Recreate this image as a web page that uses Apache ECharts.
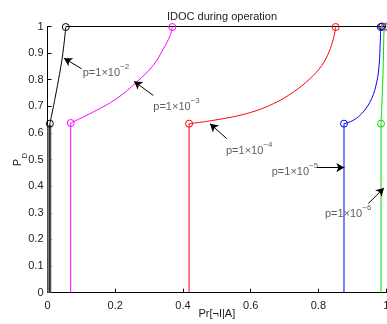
<!DOCTYPE html>
<html><head><meta charset="utf-8">
<script src="https://cdn.jsdelivr.net/npm/echarts@6/dist/echarts.min.js"></script>
<style>html,body{margin:0;padding:0;background:#fff}#c{width:387px;height:324px}</style>
</head><body><div id="c"></div>
<script>
// Curves: points (Pr[¬I|A], P_D) for each p
const labels = ['p=1×10^-2','p=1×10^-3','p=1×10^-4','p=1×10^-5','p=1×10^-6'];
const colors = ['#000000','#ff00ff','#ff0000','#0000ff','#00dd00'];
const curveBlack = [[0.007,0],[0.007,0.635],[0.022,0.729],[0.040,0.854],[0.047,0.916],[0.054,0.998]];
const curveMagenta = [[0.0685,0],[0.0685,0.6375],[0.135,0.679],[0.204,0.729],[0.263,0.791],[0.312,0.854],[0.342,0.916],[0.362,0.966],[0.3685,0.998]];
const curveRed = [[0.418,0],[0.418,0.635],[0.4896,0.6475],[0.588,0.673],[0.667,0.710],[0.726,0.754],[0.775,0.804],[0.810,0.854],[0.831,0.904],[0.844,0.954],[0.851,0.998]];
const curveBlue = [[0.8754,0],[0.8754,0.635],[0.903,0.6475],[0.932,0.679],[0.957,0.729],[0.972,0.791],[0.979,0.854],[0.9817,0.916],[0.9838,0.998]];
const curveGreen = [[0.9847,0],[0.9847,0.635],[0.990,0.80],[0.9935,0.98],[0.995,0.998]];
const topLine = [[0.054,1],[1,1]];
const greyBand = [[0.0055,0],[0.0055,0.63]];
const extraTopCircles = [[0.988,1,'#000000'],[0.999,1,'#ff00ff']];
// annotation arrows: [tailX, tailY, tipX, tipY]
const arrows = [
  [0.101,0.841,0.0487,0.881],
  [0.3124,0.741,0.2554,0.794],
  [0.529,0.579,0.4798,0.635],
  [0.7948,0.470,0.8763,0.470],
  [0.947,0.335,0.9935,0.3937]
];
// annotation text anchors (left, middle)
const textPos = [[0.104,0.835],[0.3124,0.7064],[0.527,0.5414],[0.662,0.4627],[0.819,0.3037]];
const xTicks = [0,0.2,0.4,0.6,0.8,1];
const yTicks = [0,0.1,0.2,0.3,0.4,0.5,0.6,0.7,0.8,0.9,1];

const curves = [curveBlack, curveMagenta, curveRed, curveBlue, curveGreen];
const FONT = 'Liberation Sans, Arial, sans-serif';
const chart = echarts.init(document.getElementById('c'), null, {renderer:'canvas'});
const series = [];
series.push({type:'line', data:greyBand, symbol:'none', lineStyle:{color:'#808080', width:4}, z:1, animation:false});
curves.forEach((c,i)=>{
  // vertical drop segment
  series.push({type:'line', data:c.slice(0,2), symbol:'none', lineStyle:{color:colors[i], width:1}, animation:false, z:2});
  // rising curve
  series.push({type:'line', data:c.slice(1), symbol:'none', smooth:0.4, lineStyle:{color:colors[i], width:1}, animation:false, z:2});
});
series.push({type:'line', data:topLine, symbol:'none', lineStyle:{color:'#000', width:1}, animation:false, z:3});
curves.forEach((c,i)=>{
  series.push({type:'scatter', data:[c[1], c[c.length-1]], symbol:'circle', symbolSize:7,
    itemStyle:{color:'rgba(255,255,255,0)', borderColor:colors[i], borderWidth:1, opacity:1}, animation:false, z:4});
});
extraTopCircles.forEach(p=>{
  series.push({type:'scatter', data:[[p[0],p[1]]], symbol:'circle', symbolSize:7,
    itemStyle:{color:'rgba(255,255,255,0)', borderColor:p[2], borderWidth:1, opacity:1}, animation:false, z:4});
});
// arrows
series.push({type:'line', data:[], animation:false,
  markLine:{silent:true, symbol:['none','arrow'], symbolSize:[7,8], animation:false,
    lineStyle:{color:'#000', width:1, type:'solid'}, label:{show:false},
    data: arrows.map(a=>[{coord:[a[0],a[1]]},{coord:[a[2],a[3]]}])}});
// labels
series.push({type:'scatter', symbolSize:0, animation:false, z:5,
  data: textPos.map((p,i)=>({value:p, name:labels[i]})),
  label:{show:true, position:'right', distance:0,
    formatter: d=>{ const parts=d.name.split('^'); return '{a|'+parts[0]+'}{s|'+parts[1].replace('-','−')+'}'; },
    rich:{a:{fontFamily:FONT, fontSize:11, color:'#333', lineHeight:16, verticalAlign:'bottom'},
          s:{fontFamily:FONT, fontSize:8, color:'#333', lineHeight:16, verticalAlign:'top'}}}});

chart.setOption({
  animation:false,
  title:{text:'IDOC during operation', left:217, textAlign:'center', top:6,
    textStyle:{fontFamily:FONT, fontSize:11, fontWeight:'normal', color:'#222'}},
  grid:{left:47.5, right:0.8, top:26.5, bottom:31.3, containLabel:false, outerBoundsMode:'none'},
  xAxis:{type:'value', min:0, max:1, interval:0.2,
    axisLine:{lineStyle:{color:'#000', width:1}}, axisTick:{inside:true, length:4, lineStyle:{color:'#000'}},
    splitLine:{show:false},
    axisLabel:{fontFamily:FONT, fontSize:11, color:'#222', margin:8, formatter:v=>String(+v.toFixed(1))},
    name:'Pr[¬I|A]', nameLocation:'middle', nameGap:16, nameMoveOverlap:false,
    nameTextStyle:{fontFamily:FONT, fontSize:11, color:'#222'}},
  yAxis:{type:'value', min:0, max:1, interval:0.1,
    axisLine:{show:true, lineStyle:{color:'#000', width:1}}, axisTick:{show:true, inside:true, length:4, lineStyle:{color:'#000'}},
    splitLine:{show:false},
    axisLabel:{fontFamily:FONT, fontSize:11, color:'#222', margin:4, formatter:v=>String(+v.toFixed(1))},
    name:'{a|P}{b|D}', nameLocation:'middle', nameGap:19, nameMoveOverlap:false,
    nameTextStyle:{rich:{a:{fontFamily:FONT, fontSize:11, color:'#222', lineHeight:16, verticalAlign:'top'},
                         b:{fontFamily:FONT, fontSize:8, color:'#222', lineHeight:16, verticalAlign:'bottom'}}}},
  series: series
});
</script></body></html>
